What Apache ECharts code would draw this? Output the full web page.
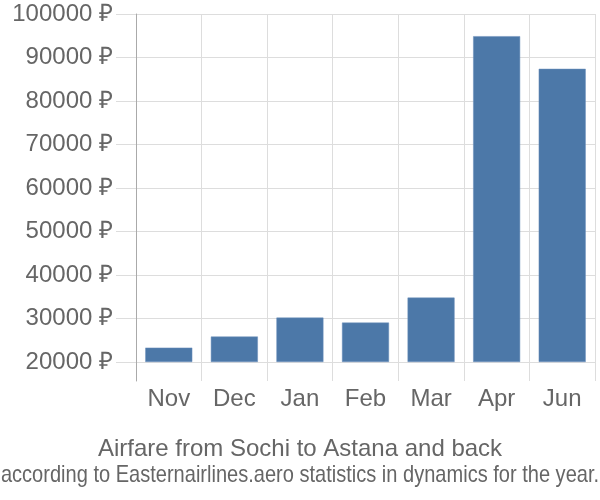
<!DOCTYPE html>
<html><head><meta charset="utf-8">
<script src="https://cdn.jsdelivr.net/npm/echarts@6/dist/echarts.min.js"></script>
<style>html,body{margin:0;padding:0;background:#fff}#c{width:600px;height:500px}</style>
</head><body><div id="c"></div>
<script>
const categories = ['Nov', 'Dec', 'Jan', 'Feb', 'Mar', 'Apr', 'Jun'];
const prices = [23300, 25850, 30200, 29050, 34800, 94900, 87400];
const baseValue = 20000;
const yTicks = [20000, 30000, 40000, 50000, 60000, 70000, 80000, 90000, 100000];
const titleText = 'Airfare from Sochi to Astana and back';
const subtitleText = 'according to Easternairlines.aero statistics in dynamics for the year.';

const chart = echarts.init(document.getElementById('c'), null, {renderer: 'canvas'});
const font = 'Liberation Sans, Arial, sans-serif';
chart.setOption({
  animation: false,
  title: [
    {text: titleText, left: 'center', top: 432, textStyle: {fontFamily: font, fontSize: 24, fontWeight: 'normal', color: '#666'}}
  ],
  graphic: [
    {type: 'text', x: 300, y: 475, scaleX: 0.835, scaleY: 1, silent: true,
      style: {text: subtitleText, fontFamily: font, fontSize: 24, fill: '#666', align: 'center', verticalAlign: 'middle'}}
  ],
  grid: {left: 136, right: 5, top: 14, bottom: 119, containLabel: false},
  xAxis: {
    type: 'category', data: categories, boundaryGap: true,
    axisLine: {show: false}, axisTick: {show: false},
    splitLine: {show: true, lineStyle: {color: '#ddd', width: 1}},
    axisLabel: {margin: 6, fontFamily: font, fontSize: 24, color: '#666'}
  },
  yAxis: {
    type: 'value', min: 15630, max: 100000,
    axisLine: {show: true, lineStyle: {color: '#aaa', width: 1}},
    axisTick: {show: true, length: 20, customValues: yTicks, lineStyle: {color: '#ddd'}},
    axisLabel: {customValues: yTicks, margin: 23, fontFamily: font, fontSize: 24, color: '#666',
      formatter: v => v + ' ₽'},
    splitLine: {show: true, lineStyle: {color: '#ddd', width: 1}}
  },
  series: [
    {type: 'bar', stack: 's', data: prices.map(() => baseValue), itemStyle: {color: 'transparent'}, barWidth: 47, silent: true},
    {type: 'bar', stack: 's', data: prices.map(p => p - baseValue), barWidth: 47,
      itemStyle: {color: '#4c78a8', borderColor: '#6a8fbb', borderWidth: 0.5}}
  ]
});
</script></body></html>
